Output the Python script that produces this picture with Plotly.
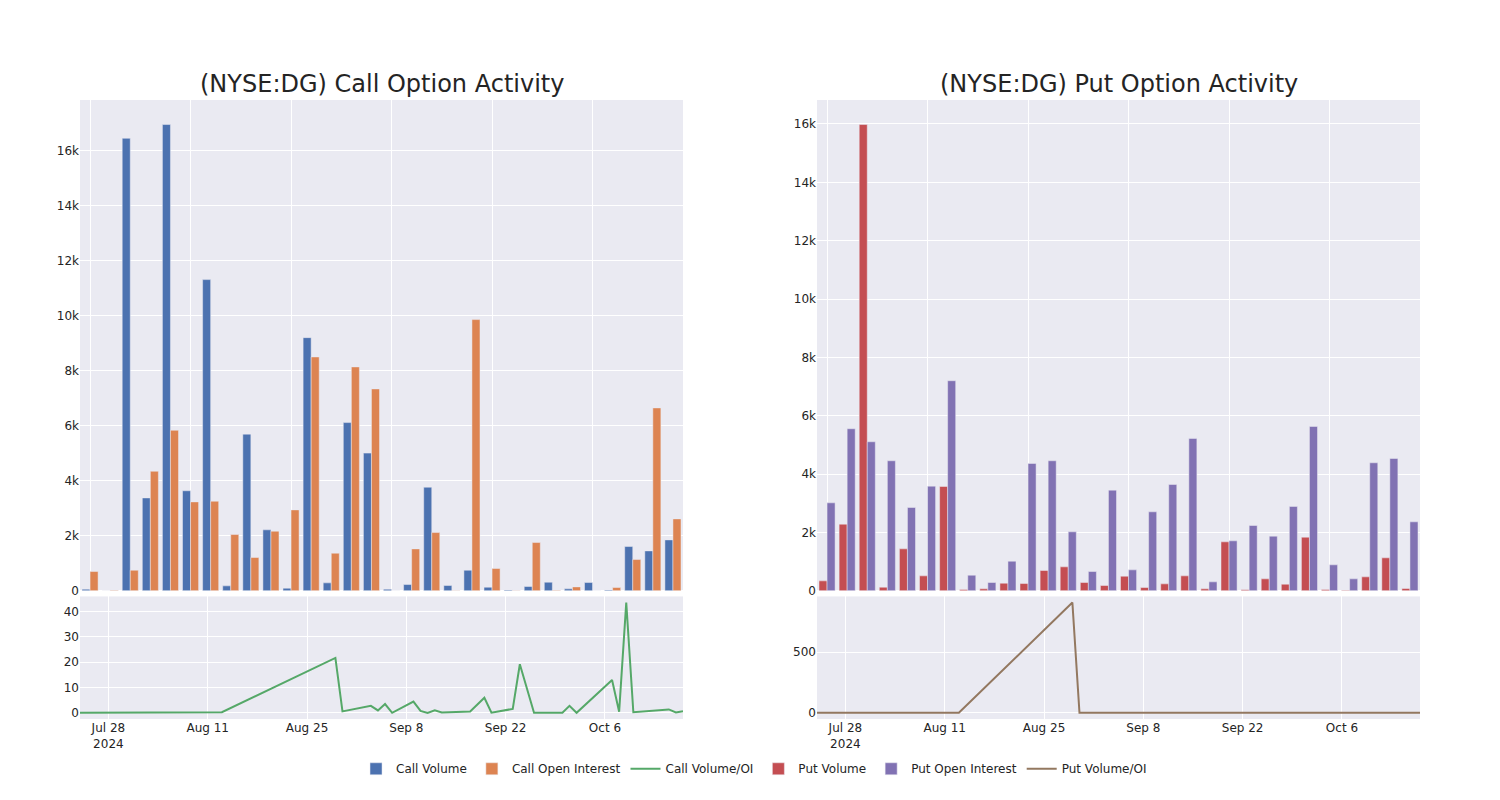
import plotly.graph_objects as go
from plotly.subplots import make_subplots

# ---- data ----
dates = ["2024-07-24", "2024-08-13", "2024-08-29", "2024-08-30", "2024-09-03",
         "2024-09-04", "2024-09-05", "2024-09-06", "2024-09-09", "2024-09-10",
         "2024-09-11", "2024-09-12", "2024-09-13", "2024-09-16", "2024-09-17",
         "2024-09-19", "2024-09-20", "2024-09-23", "2024-09-24", "2024-09-26",
         "2024-09-30", "2024-10-01", "2024-10-02", "2024-10-07", "2024-10-08",
         "2024-10-09", "2024-10-10", "2024-10-15", "2024-10-16", "2024-10-17"]

call_volume = [61, 5, 16460, 3380, 16960, 3640, 11320, 182, 5700, 2220,
               97, 9210, 291, 6120, 5010, 60, 230, 3770, 194, 751,
               133, 36, 158, 315, 73, 303, 36, 1612, 1454, 1854]
call_oi = [703, 24, 751, 4350, 5840, 3236, 3260, 2048, 1212, 2169,
           2945, 8508, 1370, 8145, 7345, 8, 1527, 2121, 10, 9866,
           812, 13, 1757, 24, 145, 7, 121, 1139, 6654, 2618]
call_ratio = [0.05, 0.3, 21.7, 0.6, 2.8, 1.0, 3.5, 0.05, 4.5, 0.8,
              0.03, 1.0, 0.15, 0.7, 0.6, 6.0, 0.1, 1.6, 19.2, 0.08,
              0.1, 2.8, 0.05, 13.0, 0.5, 43.5, 0.3, 1.4, 0.2, 0.7]

put_volume = [343, 2286, 15980, 126, 1440, 514, 3578, 46, 69, 263,
              251, 697, 823, 286, 183, 503, 114, 240, 514, 69,
              1680, 34, 411, 229, 1840, 46, 23, 480, 1132, 80]
put_oi = [3017, 5555, 5109, 4458, 2857, 3589, 7201, 537, 286, 1017,
          4366, 4458, 2023, 663, 3452, 720, 2709, 3646, 5224, 309,
          1715, 2240, 1875, 2892, 5635, 892, 411, 4389, 4538, 2366]
put_ratio = [0.1, 0.4, 910, 0.03, 0.5, 0.14, 0.5, 0.09, 0.24, 0.26,
             0.06, 0.16, 0.4, 0.43, 0.05, 0.7, 0.04, 0.07, 0.1, 0.2,
             0.98, 0.02, 0.22, 0.08, 0.33, 0.05, 0.06, 0.11, 0.25, 0.03]

titles = ["(NYSE:DG) Call Option Activity", "(NYSE:DG) Put Option Activity"]

fig = make_subplots(rows=2, cols=2, horizontal_spacing=0.1,
                    vertical_spacing=0.01, row_heights=[0.8, 0.2],
                    subplot_titles=titles)

fig.add_trace(go.Bar(x=dates, y=call_volume, name="Call Volume"), row=1, col=1)
fig.add_trace(go.Bar(x=dates, y=call_oi, name="Call Open Interest"), row=1, col=1)
fig.add_trace(go.Scatter(x=dates, y=call_ratio, mode="lines", name="Call Volume/OI"), row=2, col=1)
fig.add_trace(go.Bar(x=dates, y=put_volume, name="Put Volume"), row=1, col=2)
fig.add_trace(go.Bar(x=dates, y=put_oi, name="Put Open Interest"), row=1, col=2)
fig.add_trace(go.Scatter(x=dates, y=put_ratio, mode="lines", name="Put Volume/OI"), row=2, col=2)

fig.update_layout(
    template="seaborn",
    font=dict(family="DejaVu Sans"),
    width=1484, height=784,
    margin=dict(l=72, r=72, t=92, b=73, autoexpand=False),
    legend=dict(orientation="h", x=0.503, xanchor="center", y=-0.057, yanchor="top"),
)

fig.update_xaxes(type="category", showticklabels=False, tick0=0, dtick=5, row=1, col=1)
fig.update_xaxes(type="category", showticklabels=False, tick0=0, dtick=5, row=1, col=2)
fig.update_xaxes(type="date", row=2, col=1)
fig.update_xaxes(type="date", row=2, col=2)

fig.update_yaxes(domain=[0.207, 1.0], row=1)
fig.update_yaxes(domain=[0.0, 0.198], row=2)

for ann in fig.layout.annotations:
    ann.font.size = 24
    ann.font.family = "DejaVu Sans"

fig.write_html("out.html")
